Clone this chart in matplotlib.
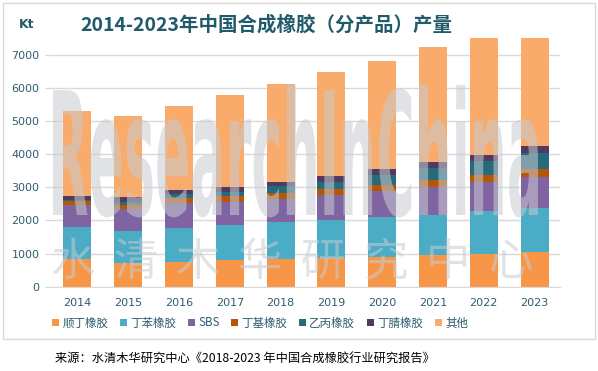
import matplotlib
matplotlib.use("Agg")
import matplotlib.pyplot as plt
import numpy as np
from matplotlib.font_manager import FontProperties
from matplotlib.patches import PathPatch, Rectangle
from matplotlib.textpath import TextPath
from matplotlib.transforms import Affine2D

plt.rcParams["font.family"] = ["DejaVu Sans", "Noto Sans CJK SC"]

# Data (kt)
years = ["2014", "2015", "2016", "2017", "2018", "2019", "2020", "2021", "2022", "2023"]
br = [836, 716, 755, 816, 837, 876, 900, 957, 997, 1057]            # 顺丁橡胶
sbr = [968, 967, 1018, 1048, 1127, 1148, 1210, 1209, 1299, 1330]    # 丁苯橡胶
sbs = [664, 655, 765, 704, 676, 746, 780, 846, 876, 936]            # SBS
iir = [121, 130, 151, 172, 182, 172, 181, 221, 202, 233]            # 丁基橡胶
epdm = [30, 91, 111, 130, 220, 230, 302, 362, 423, 492]             # 乙丙橡胶
nbr = [121, 151, 121, 151, 130, 181, 182, 181, 182, 203]            # 丁腈橡胶
other = [2560, 2450, 2539, 2769, 2958, 3117, 3263, 3465, 3561, 3309]  # 其他

series = [
    ("顺丁橡胶", br, "#F79646"),
    ("丁苯橡胶", sbr, "#4BACC6"),
    ("SBS", sbs, "#8064A2"),
    ("丁基橡胶", iir, "#B65708"),
    ("乙丙橡胶", epdm, "#276A7C"),
    ("丁腈橡胶", nbr, "#4D3B62"),
    ("其他", other, "#F9AB6B"),
]

text_color = "#2D5D6E"
W, H = 598, 371
fig = plt.figure(figsize=(W / 100, H / 100), dpi=100)
ax = fig.add_axes([52 / W, 1 - 286.7 / H, 508 / W, (286.7 - 38) / H])

x = np.arange(len(years))
bottom = np.zeros(len(years))
for name, vals, color in series:
    ax.bar(x, vals, 0.55, bottom=bottom, color=color, label=name, zorder=2)
    bottom += np.array(vals)

ax.set_xlim(-0.5, len(years) - 0.5)
ax.set_ylim(0, 7510)
ax.set_yticks(range(0, 7001, 1000))
ax.set_xticks(x)
ax.set_xticklabels(years)
ax.grid(axis="y", color="#D9D9D9", linewidth=1, zorder=0)
for s in ["top", "right", "left"]:
    ax.spines[s].set_visible(False)
ax.spines["bottom"].set_color("#D9D9D9")
ax.tick_params(axis="y", length=5, color="#D9D9D9", labelsize=8, labelcolor=text_color, pad=4)
ax.tick_params(axis="x", length=0, labelsize=8, labelcolor=text_color, pad=8)

# Legend
handles, labels = ax.get_legend_handles_labels()
leg = fig.legend(handles, labels, loc="center", bbox_to_anchor=(260 / W, 1 - 323 / H),
                 ncol=7, frameon=False, handlelength=0.6, handleheight=0.6,
                 handletextpad=0.3, columnspacing=1.0,
                 prop={"family": ["Noto Sans CJK SC", "DejaVu Sans"], "size": 8.3})
for t in leg.get_texts():
    t.set_color(text_color)

# Title and unit
fig.text(266 / W, 1 - 25 / H, "2014-2023年中国合成橡胶（分产品）产量", ha="center", va="center",
         fontsize=14, fontweight="bold", color="#215A6A",
         family=["Noto Sans CJK SC", "DejaVu Sans"])
fig.text(27 / W, 1 - 25 / H, "Kt", ha="center", va="center", fontsize=9,
         fontweight="bold", color="#215A6A")

# Watermarks
wm_color = "#C8CBD1"
tp = TextPath((0, 0), "ResearchInChina", size=1,
              prop=FontProperties(family="DejaVu Sans", weight="bold"))
bb = tp.get_extents()
sx = (538 - 53) / bb.width
sy = (215 - 90) / 0.73
tr = Affine2D().scale(sx / 100, sy / 100).translate((53 - bb.x0 * sx) / 100, (H - 215) / 100)
fig.add_artist(PathPatch(tp, transform=tr + fig.dpi_scale_trans, facecolor=wm_color,
                         edgecolor="none", alpha=0.55, zorder=5))
for i, ch in enumerate("水清木华研究中心"):
    fig.text((73 + i * 62.5) / W, 1 - 262 / H, ch, ha="center", va="center", fontsize=32,
             color=wm_color, alpha=0.55, family="Noto Sans CJK SC", zorder=5)

# Chart frame and source line
fig.add_artist(Rectangle((3 / W, 1 - 339 / H), 592 / W, 336 / H, transform=fig.transFigure,
                         fill=False, edgecolor="#D9D9D9", linewidth=1))
fig.text(55 / W, 1 - 358 / H, "来源：水清木华研究中心《2018-2023 年中国合成橡胶行业研究报告》",
         ha="left", va="center", fontsize=8.8, color="black",
         family=["Noto Sans CJK SC", "DejaVu Sans"])

fig.savefig("out.png", dpi=100)
